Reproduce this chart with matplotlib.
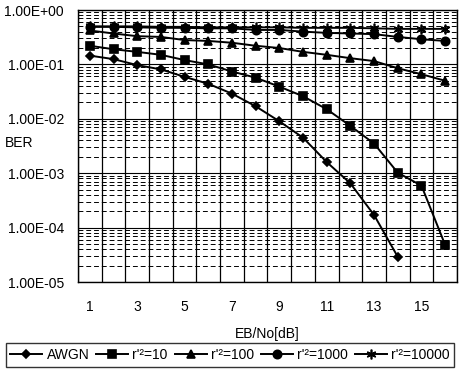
import matplotlib
matplotlib.use("Agg")
import matplotlib.pyplot as plt
from matplotlib.ticker import FixedLocator, FuncFormatter, LogLocator, NullFormatter

plt.rcParams['font.family'] = ['Liberation Sans', 'DejaVu Sans']

ebno = list(range(1, 17))
awgn = [0.145, 0.125, 0.097, 0.081, 0.059, 0.044, 0.029, 0.017, 0.009, 0.0045,
        0.0016, 0.00065, 0.00017, 0.000029]
r10 = [0.22, 0.19, 0.17, 0.15, 0.12, 0.10, 0.074, 0.057, 0.039, 0.026,
       0.015, 0.0074, 0.0035, 0.00102, 0.00059, 0.000048]
r100 = [0.42, 0.37, 0.33, 0.32, 0.28, 0.27, 0.25, 0.22, 0.20, 0.17,
        0.15, 0.13, 0.115, 0.085, 0.066, 0.050]
r1000 = [0.49, 0.49, 0.48, 0.47, 0.47, 0.46, 0.46, 0.43, 0.43, 0.40,
         0.38, 0.37, 0.36, 0.32, 0.29, 0.27]
r10000 = [0.50, 0.50, 0.50, 0.49, 0.49, 0.48, 0.48, 0.48, 0.48, 0.47,
          0.47, 0.47, 0.46, 0.45, 0.45, 0.45]
labels = ["AWGN", "r'²=10", "r'²=100", "r'²=1000", "r'²=10000"]
xticks = [1, 3, 5, 7, 9, 11, 13, 15]

fig = plt.figure(figsize=(4.6, 3.78), dpi=100)
ax = fig.add_axes([78/460, 1-282/378, (457-78)/460, (282-10)/378])

series = [awgn, r10, r100, r1000, r10000]
markers = ['D', 's', '^', 'o', (6, 2, 0)]
msizes = [4.5, 5.5, 5.5, 6, 7]
handles = []
for ys, m, ms, lab in zip(series, markers, msizes, labels):
    h, = ax.plot(ebno[:len(ys)], ys, color='black', lw=1.4, marker=m, ms=ms,
                 mec='black', mfc='black', mew=1.2, label=lab, zorder=3)
    handles.append(h)

ax.set_yscale('log')
ax.set_ylim(1e-5, 1.0)
ax.set_xlim(0.5, 16.5)
ax.xaxis.set_major_locator(FixedLocator(xticks))
ax.xaxis.set_minor_locator(FixedLocator([i + 0.5 for i in range(0, 17)]))
ax.yaxis.set_major_locator(LogLocator(base=10, numticks=10))
ax.yaxis.set_minor_locator(LogLocator(base=10, subs=range(2, 10), numticks=20))
ax.yaxis.set_minor_formatter(NullFormatter())
ax.yaxis.set_major_formatter(FuncFormatter(lambda v, p: f"{v:.2E}"))

ax.grid(False)
ax.grid(True, which='minor', axis='x', color='black', lw=0.9, ls='-')
ax.grid(True, which='major', axis='y', color='black', lw=0.8, ls='-')
ax.grid(True, which='minor', axis='y', color='black', lw=0.7, ls=(0, (5, 3)))
ax.set_axisbelow(True)

ax.tick_params(axis='both', which='both', length=0, labelsize=10)
ax.tick_params(axis='y', pad=10)
ax.tick_params(axis='x', pad=13)
for s in ax.spines.values():
    s.set_color('black')
    s.set_linewidth(1.0)

ax.set_xlabel("EB/No[dB]", fontsize=10, labelpad=9)
fig.text(5/460, 1-143/378, "BER", fontsize=10, va='center', ha='left')

leg = fig.legend(handles, labels, loc='center', bbox_to_anchor=(230/460, 1-355/378),
                 ncol=5, frameon=True, fancybox=False, edgecolor='black',
                 fontsize=10, handlelength=2.3, handletextpad=0.3,
                 columnspacing=0.5, borderpad=0.35, borderaxespad=0)
leg.get_frame().set_linewidth(1.0)

fig.savefig("out.png", dpi=100)
